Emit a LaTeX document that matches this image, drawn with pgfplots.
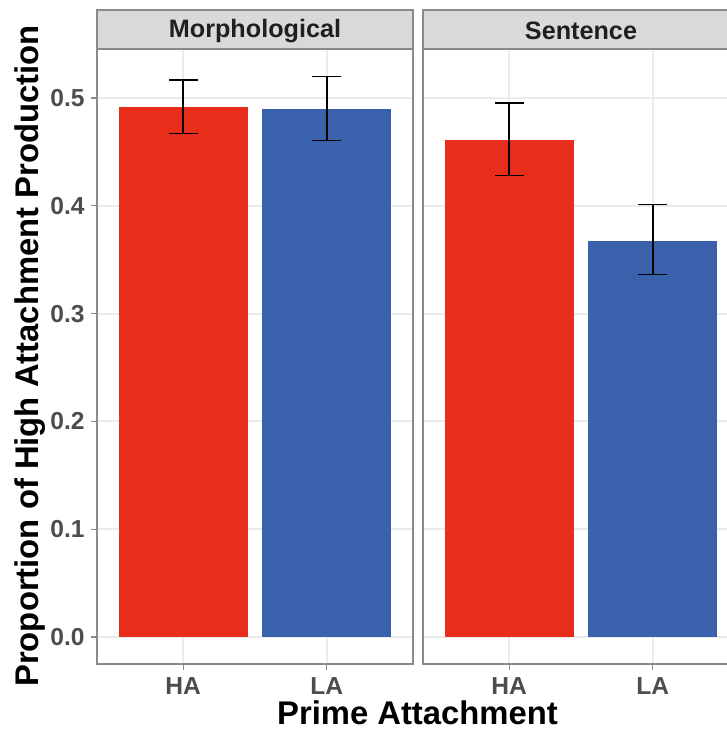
\documentclass[border=0pt]{standalone}
\usepackage{pgfplots}
\usepackage{pgfplotstable}
\pgfplotsset{compat=1.18}
\usepackage{fontspec}
\setmainfont{Liberation Sans}

\definecolor{barred}{HTML}{E82E1A}
\definecolor{barblue}{HTML}{3A62AC}
\definecolor{gridgray}{HTML}{EBEBEB}
\definecolor{framegray}{HTML}{8A8A8A}
\definecolor{stripgray}{HTML}{D9D9D9}
\definecolor{ticktext}{HTML}{4D4D4D}

% value, upper end of error bar, lower end of error bar
\pgfplotstableread{
x  y       up      lo
0  0.4919  0.5167  0.4672
}\morphHA
\pgfplotstableread{
x  y       up      lo
1  0.4900  0.5200  0.4605
}\morphLA
\pgfplotstableread{
x  y       up      lo
0  0.4611  0.4954  0.4280
}\sentHA
\pgfplotstableread{
x  y       up      lo
1  0.3677  0.4011  0.3363
}\sentLA

\pgfplotsset{
  facet/.style={
    scale only axis,
    width=158pt, height=307.5pt,
    anchor=south west,
    xmin=-0.6, xmax=1.6,
    ymin=-0.025, ymax=0.5455,
    xtick={0,1}, xticklabels={HA,LA},
    ytick={0,0.1,0.2,0.3,0.4,0.5},
    grid=major,
    major grid style={gridgray, line width=1pt},
    axis line style={framegray, line width=0.6pt},
    tick style={framegray, line width=0.6pt},
    tick align=outside,
    major tick length=3pt,
    xtick pos=bottom, ytick pos=left,
    tick label style={font=\fontsize{12.3}{14}\selectfont\bfseries, text=ticktext},
    /pgf/number format/assume math mode=true,
    yticklabel style={/pgf/number format/fixed, /pgf/number format/fixed zerofill,
      /pgf/number format/precision=1, inner sep=0pt, xshift=-3pt},
    xticklabel style={inner sep=0pt, yshift=-3.5pt},
    ybar, bar width=0.9, bar shift=0pt,
  },
  errbar/.style={
    draw=none, forget plot,
    error bars/.cd, y dir=both, y explicit,
    error mark=|,
    error bar style={black, line width=0.75pt},
    error mark options={black, line width=0.75pt, mark size=7.2pt},
  },
}

\begin{document}
\begin{tikzpicture}[x=1pt,y=1pt]
\useasboundingbox (0,0) rectangle (363.5,364.5);
\clip (0,0) rectangle (363.5,364.5);

% strips
\draw[framegray, fill=stripgray, line width=0.6pt] (48.5,340) rectangle (206.5,359.5);
\draw[framegray, fill=stripgray, line width=0.6pt] (211.5,340) rectangle (369.5,359.5);
\node[text=black!88, font=\fontsize{12.6}{14}\selectfont\bfseries] at (127.5,348.9) {Morphological};
\node[text=black!88, font=\fontsize{12.6}{14}\selectfont\bfseries] at (290.5,348.9) {Sentence};

% left facet
\begin{axis}[facet, at={(48.5pt,32.5pt)}]
  \addplot[fill=barred, draw=none] table[x=x, y=y] {\morphHA};
  \addplot[fill=barblue, draw=none] table[x=x, y=y] {\morphLA};
  \addplot[errbar] table[x=x, y=y,
    y error plus expr=\thisrow{up}-\thisrow{y},
    y error minus expr=\thisrow{y}-\thisrow{lo}] {\morphHA};
  \addplot[errbar] table[x=x, y=y,
    y error plus expr=\thisrow{up}-\thisrow{y},
    y error minus expr=\thisrow{y}-\thisrow{lo}] {\morphLA};
\end{axis}

% right facet (shared y scale: no y ticks or labels)
\begin{axis}[facet, at={(211.5pt,32.5pt)}, yticklabels={}, ytick style={draw=none}]
  \addplot[fill=barred, draw=none] table[x=x, y=y] {\sentHA};
  \addplot[fill=barblue, draw=none] table[x=x, y=y] {\sentLA};
  \addplot[errbar] table[x=x, y=y,
    y error plus expr=\thisrow{up}-\thisrow{y},
    y error minus expr=\thisrow{y}-\thisrow{lo}] {\sentHA};
  \addplot[errbar] table[x=x, y=y,
    y error plus expr=\thisrow{up}-\thisrow{y},
    y error minus expr=\thisrow{y}-\thisrow{lo}] {\sentLA};
\end{axis}

% axis titles
\node[font=\fontsize{16.4}{18}\selectfont\bfseries] at (208.75,8.3) {Prime Attachment};
\node[font=\fontsize{16.4}{18}\selectfont\bfseries, rotate=90] at (14.8,186.5) {Proportion of High Attachment Production};
\end{tikzpicture}
\end{document}
